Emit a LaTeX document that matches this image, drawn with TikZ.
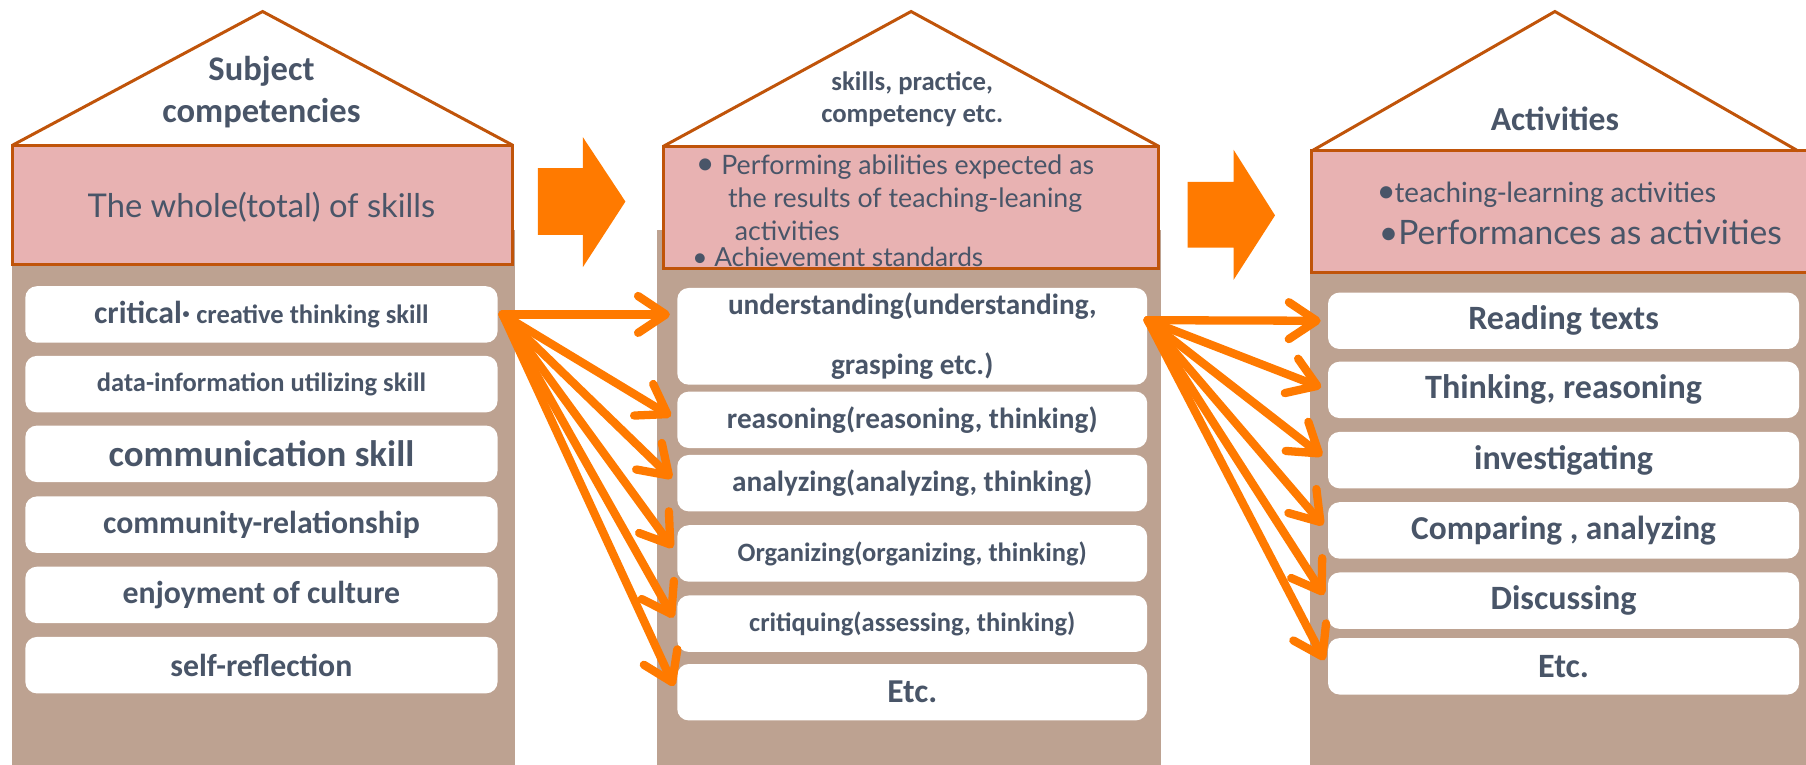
\documentclass[tikz,border=0pt]{standalone}
\usepackage{fontspec}
\setmainfont{Carlito}
\newfontfamily\panelfont{Lato}
\usetikzlibrary{arrows.meta}
\definecolor{roofline}{RGB}{192,84,10}
\definecolor{panelfill}{RGB}{232,178,178}
\definecolor{pillar}{RGB}{189,162,145}
\definecolor{slate}{RGB}{73,85,104}
\definecolor{fanorange}{RGB}{255,122,0}
\newcommand{\fsz}[1]{\fontsize{#1}{#1}\selectfont}
\tikzset{
  roof/.style={draw=roofline, line width=1.3pt, line join=miter},
  panel/.style={fill=panelfill, draw=roofline, line width=1.3pt},
  pillar/.style={fill=pillar},
  item/.style={fill=white, rounded corners=5pt, minimum height=24.5pt, inner sep=0pt, text=slate, font=\bfseries},
  fan/.style={draw=fanorange, line width=3.6pt, line cap=round, -{Straight Barb[length=12pt, width=16pt, round]}, shorten >=3pt},
  bigarrow/.style={fill=fanorange}
}

\begin{document}
\begin{tikzpicture}[x=0.5pt, y=-0.5pt, every node/.style={text=slate}]
  \useasboundingbox (0,0) rectangle (1568,664);

  %%%%% HOUSES %%%%%
  \fill[pillar] (10,200) rectangle (447,664);
  \draw[panel] (11,126) rectangle (445,230);
  \draw[roof] (11,126) -- (228,10) -- (445,126);

  \fill[pillar] (570,200) rectangle (1008,664);
  \draw[panel] (576,127) rectangle (1006,233);
  \draw[roof] (576,127) -- (791,10) -- (1006,127);

  \fill[pillar] (1137,200) rectangle (1580,664);
  \draw[panel] (1139,131) rectangle (1590,237);
  \draw[roof] (1139,131) -- (1350,10) -- (1561,131);

  \fill[bigarrow] (467,146) -- (506,146) -- (506,119) -- (543,175) -- (506,232) -- (506,204) -- (467,204) -- cycle;
  \fill[bigarrow] (1031,158) -- (1071,158) -- (1071,130) -- (1107,187) -- (1071,243) -- (1071,215) -- (1031,215) -- cycle;

  %%%%% HEADINGS %%%%%
  \node[font=\bfseries\fontsize{15}{18}\selectfont, align=center] (subj) at (227,80) {Subject\\competencies};
  \node[font=\bfseries\fontsize{11.6}{14}\selectfont, align=center] (prac) at (792,86) {skills, practice,\\competency etc.};
  \node[font=\bfseries\fsz{14.6}] (actv) at (1350,103) {Activities};

  \node[font=\panelfont\fsz{14.2}] (whole) at (227,180) {The whole(total) of skills};

  \node[anchor=west, font=\panelfont\fsz{11.6}] (perfA) at (597,145) {{\fsz{14}•}\ Performing abilities expected as};
  \node[anchor=west, font=\panelfont\fsz{11.6}] (perfB) at (625,174) {the results of teaching-leaning};
  \node[anchor=west, font=\panelfont\fsz{11.6}] (perfC) at (631,200) {activities};
  \node[anchor=west, font=\panelfont\fsz{11.4}] (achv) at (594,223) {• Achievement standards};

  \node[anchor=west, font=\fsz{12.8}] (teach) at (1189,169) {{\fsz{15}•}teaching-learning activities};
  \node[anchor=west, font=\panelfont\fsz{14.6}] (perfm) at (1190,202) {•Performances as activities};

  %%%%% SUBJECT COMPETENCIES %%%%%
  \node[item, minimum width=205pt] (crit) at (227,273) {{\fsz{13.8}critical·}{\fsz{11.5} creative thinking skill}};
  \node[item, minimum width=205pt, font=\bfseries\fsz{11.5}] (data) at (227,333.5) {data-information utilizing skill};
  \node[item, minimum width=205pt, font=\bfseries\fsz{16}] (comm) at (227,394) {communication skill};
  \node[item, minimum width=205pt, font=\bfseries\fsz{13.8}] (rela) at (227,455.5) {community-relationship};
  \node[item, minimum width=205pt, font=\bfseries\fsz{13.8}] (cult) at (227,516.5) {enjoyment of culture};
  \node[item, minimum width=205pt, font=\bfseries\fsz{13.8}] (self) at (227,577.5) {self-reflection};

  %%%%% ABILITIES %%%%%
  \node[item, minimum width=204pt, minimum height=42pt, align=center, font=\bfseries\fontsize{12.7}{26}\selectfont] (und) at (792,292) {understanding(understanding,\\grasping etc.)};
  \node[item, minimum width=204pt, font=\bfseries\fsz{12.7}] (reas) at (792,364.5) {reasoning(reasoning, thinking)};
  \node[item, minimum width=204pt, font=\bfseries\fsz{12.7}] (anal) at (792,419.5) {analyzing(analyzing, thinking)};
  \node[item, minimum width=204pt, font=\bfseries\fsz{11.5}] (orga) at (792,480.5) {Organizing(organizing, thinking)};
  \node[item, minimum width=204pt, font=\bfseries\fsz{11.5}] (crtq) at (792,541.5) {critiquing(assessing, thinking)};
  \node[item, minimum width=204pt, font=\bfseries\fsz{14.5}] (etcM) at (792,601) {Etc.};

  %%%%% ACTIVITIES %%%%%
  \node[item, minimum width=204.5pt, font=\bfseries\fsz{14.8}] (read) at (1357.5,278.5) {Reading texts};
  \node[item, minimum width=204.5pt, font=\bfseries\fsz{14.8}] (thnk) at (1357.5,338.5) {Thinking, reasoning};
  \node[item, minimum width=204.5pt, font=\bfseries\fsz{14.8}] (inve) at (1357.5,399.5) {investigating};
  \node[item, minimum width=204.5pt, font=\bfseries\fsz{14.5}] (comp) at (1357.5,460.5) {Comparing , analyzing};
  \node[item, minimum width=204.5pt, font=\bfseries\fsz{14.8}] (disc) at (1357.5,521.5) {Discussing};
  \node[item, minimum width=204.5pt, font=\bfseries\fsz{14.8}] (etcR) at (1357.5,578.5) {Etc.};

  %%%%% FANS %%%%%
  \coordinate (fromL) at ([xshift=2pt]crit.east);
  \draw[fan] (fromL) -- (und.west |- fromL);
  \foreach \t in {reas,anal,orga,crtq,etcM}
    \draw[fan] (fromL) -- (\t.west);

  \coordinate (fromM) at ([yshift=7pt]und.east);
  \draw[fan] (fromM) -- (read.west);
  \foreach \t in {thnk,inve,comp,disc,etcR}
    \draw[fan] (fromM) -- (\t.west);
\end{tikzpicture}
\end{document}
